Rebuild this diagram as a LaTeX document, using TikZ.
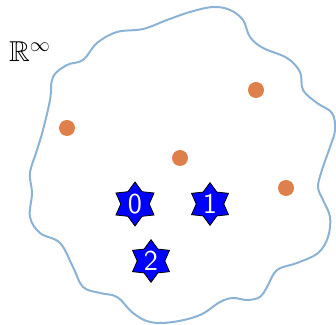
\documentclass[tikz,border=0pt]{standalone}
\usepackage{amsmath, amssymb}
\usepackage{tikz}
\usetikzlibrary{shapes.geometric}
\usepackage{xcolor}

\definecolor{blobblue}{RGB}{140,178,212}
\definecolor{dotorange}{RGB}{222,128,75}

\begin{document}
\begin{tikzpicture}[
    x=0.5pt, y=-0.5pt,
    agent/.style={star, star points=6, star point ratio=1.55, draw=black, fill=blue,
        minimum size=19pt, inner sep=0pt, text=white, font=\Large\sffamily},
    dot/.style={circle, fill=dotorange, minimum size=8pt, inner sep=0pt}
]
\useasboundingbox (0,0) rectangle (336,325);
% the space
\draw[blobblue, line width=1pt] plot[smooth cycle, tension=0.6] coordinates {
    (97,43) (117,32) (143,29) (167,20) (190,12) (213,7) (230,10) (243,20)
    (250,37) (263,48) (287,58) (300,72) (303,90) (317,103) (332,113) (335,130)
    (330,147) (322,170) (318,187) (323,200) (330,217) (328,237) (318,253)
    (297,263) (277,270) (267,287) (260,297) (247,300) (233,298) (220,302)
    (200,315) (173,322) (150,322) (133,313) (117,297) (100,293) (83,287)
    (73,267) (60,243) (40,233) (30,217) (32,193) (30,173) (37,150) (43,130)
    (50,100) (53,77) (67,65) (83,60)};
\node (space) at (30,52) {\Large$\mathbb{R}^\infty$};
% points
\node[dot] (p1) at (67,128) {};
\node[dot] (p2) at (256,90) {};
\node[dot] (p3) at (180,158) {};
\node[dot] (p4) at (286,188) {};
% agents
\node[agent] (a0) at (135,204) {0};
\node[agent] (a1) at (210,204) {1};
\node[agent] (a2) at (151,261) {2};
\end{tikzpicture}
\end{document}
